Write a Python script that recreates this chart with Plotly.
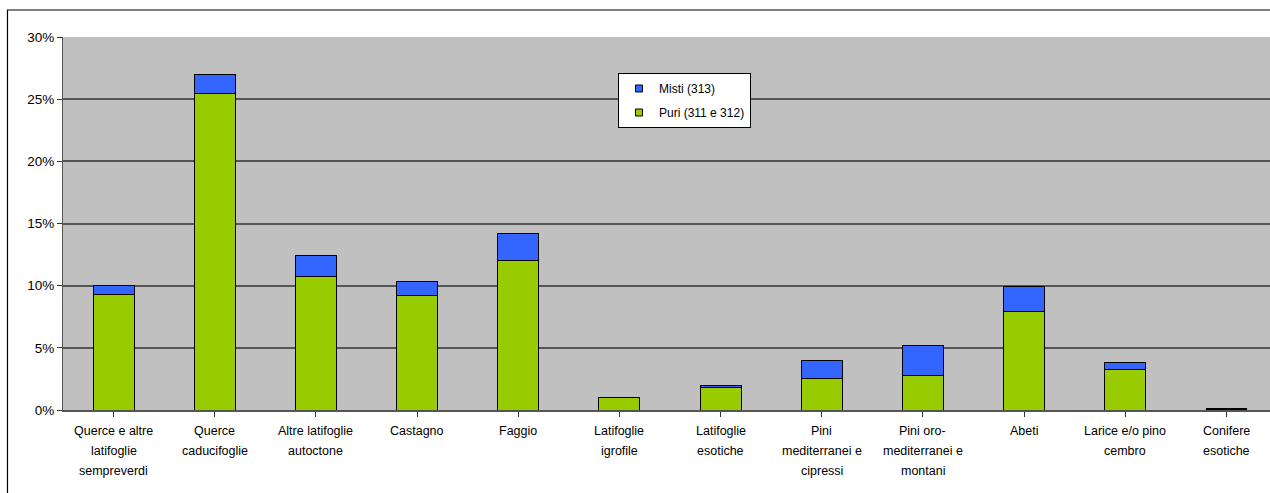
import plotly.graph_objects as go

# Forest categories (Italian forest inventory classes)
categorie = [
    "Querce e altre latifoglie sempreverdi",
    "Querce caducifoglie",
    "Altre latifoglie autoctone",
    "Castagno",
    "Faggio",
    "Latifoglie igrofile",
    "Latifoglie esotiche",
    "Pini mediterranei e cipressi",
    "Pini oro-mediterranei e montani",
    "Abeti",
    "Larice e/o pino cembro",
    "Conifere esotiche",
]

# Wrapped category labels, one list of lines per category
etichette = [
    ["Querce e altre", "latifoglie", "sempreverdi"],
    ["Querce", "caducifoglie"],
    ["Altre latifoglie", "autoctone"],
    ["Castagno"],
    ["Faggio"],
    ["Latifoglie", "igrofile"],
    ["Latifoglie", "esotiche"],
    ["Pini", "mediterranei e", "cipressi"],
    ["Pini oro-", "mediterranei e", "montani"],
    ["Abeti"],
    ["Larice e/o pino", "cembro"],
    ["Conifere", "esotiche"],
]

# Shares (fraction of total)
puri = [0.093, 0.2545, 0.107, 0.092, 0.120, 0.010, 0.0185, 0.025, 0.028, 0.079, 0.0325, 0.0006]
misti = [0.007, 0.0155, 0.017, 0.011, 0.022, 0.0, 0.001, 0.015, 0.0235, 0.020, 0.0055, 0.0004]

FONT = "Liberation Sans, Arial, sans-serif"
VERDE = "#99CC00"
BLU = "#3366FF"
x_idx = list(range(len(categorie)))

fig = go.Figure()
fig.add_trace(go.Bar(
    x=x_idx, y=puri, name="Puri (311 e 312)", showlegend=False,
    marker=dict(color=VERDE, line=dict(color="#000000", width=1)),
    width=0.405,
))
fig.add_trace(go.Bar(
    x=x_idx, y=misti, name="Misti (313)", showlegend=False,
    marker=dict(color=BLU, line=dict(color="#000000", width=1)),
    width=0.405,
))

# Legend entries with small square keys
for nome, colore, rank in [("Misti (313)", BLU, 1), ("Puri (311 e 312)", VERDE, 2)]:
    fig.add_trace(go.Scatter(
        x=[None], y=[None], mode="markers", name=nome, legendrank=rank,
        legendgroup=nome,
        marker=dict(symbol="square", size=7, color=colore,
                    line=dict(color="#000000", width=1)),
    ))

# Multi-line category labels under the axis
annotations = []
for i, lines in enumerate(etichette):
    for j, line in enumerate(lines):
        annotations.append(dict(
            x=i, y=0, xref="x", yref="paper",
            text=line, showarrow=False,
            xanchor="center", yanchor="middle",
            yshift=-21 - 20 * j,
            font=dict(family=FONT, size=12.5, color="#000000"),
        ))

fig.update_layout(
    width=1270, height=493,
    margin=dict(l=63, r=0, t=37, b=83),
    paper_bgcolor="#FFFFFF",
    plot_bgcolor="#C0C0C0",
    barmode="stack",
    font=dict(family=FONT, size=12, color="#000000"),
    showlegend=True,
    legend=dict(
        x=0.4598, y=0.9035, xanchor="left", yanchor="top",
        bgcolor="#FFFFFF", bordercolor="#000000", borderwidth=1,
        traceorder="grouped", tracegroupgap=5,
        font=dict(family=FONT, size=12, color="#000000"),
        itemwidth=30, itemclick=False,
    ),
    annotations=annotations,
    xaxis=dict(
        range=[-0.5, 11.43],
        tickmode="array", tickvals=x_idx, ticktext=[""] * len(x_idx),
        ticks="outside", tickson="boundaries", ticklen=5,
        tickcolor="#333333", tickwidth=1,
        showline=True, linecolor="#555555", linewidth=2,
        showgrid=False, zeroline=False, fixedrange=True,
    ),
    yaxis=dict(
        range=[0, 0.30], dtick=0.05, tickformat=".0%",
        ticks="outside", ticklen=5, tickcolor="#333333",
        showline=True, linecolor="#555555", linewidth=1,
        showgrid=True, gridcolor="#555555", gridwidth=1.6,
        zeroline=False,
        tickfont=dict(family=FONT, size=13.5, color="#000000"),
    ),
    shapes=[
        # outer frame around the chart object
        dict(type="rect", xref="paper", yref="paper",
             x0=-0.046, y0=-0.25, x1=1.02, y1=1.0724,
             line=dict(color="#000000", width=1.2), fillcolor="rgba(0,0,0,0)",
             layer="below"),
    ],
)

fig.write_html("out.html")
